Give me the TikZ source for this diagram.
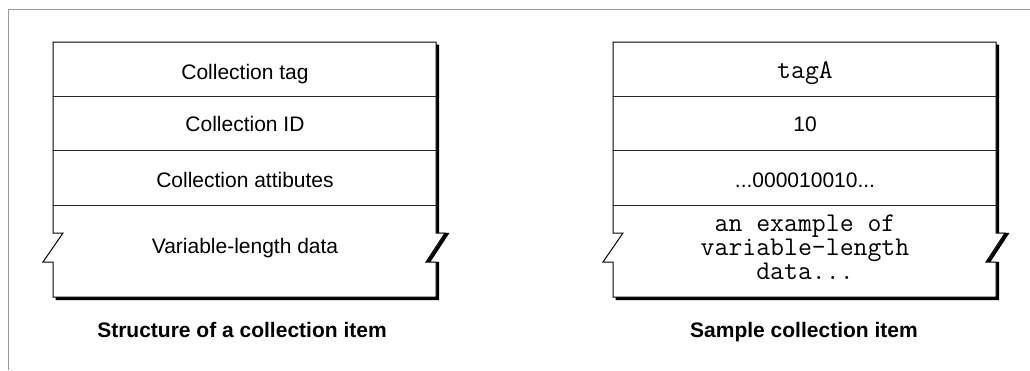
\documentclass[tikz,border=0pt]{standalone}
\usepackage{fontspec}
\setmainfont{Liberation Sans}
\newfontfamily\courfont{Latin Modern Mono}
\begin{document}
\begin{tikzpicture}[x=1pt,y=-1pt,
  frameline/.style={draw=black!40,line width=1.2pt},
  outline/.style={draw=black,line width=1pt,line join=miter},
  divider/.style={draw=black!85,line width=0.9pt},
  shadowline/.style={draw=black,line width=3.2pt,line join=miter},
  sanstext/.style={anchor=base,inner sep=0pt,font=\fontsize{21}{24}\selectfont},
  monotext/.style={anchor=base,inner sep=0pt,font=\courfont\fontsize{27}{24}\selectfont},
  captext/.style={anchor=base,inner sep=0pt,font=\bfseries\fontsize{21}{24}\selectfont}]
\useasboundingbox (0,0) rectangle (1030,370);
\fill[white] (0,0) rectangle (1030,370);
% frame
\draw[frameline] (8.5,370) -- (8.5,9.5) -- (1030,9.5);

% ---------- left box ----------
\def\L{53}\def\R{436}\def\T{42}\def\B{297}
\draw[shadowline,shift={(1.5,1.5)}] (\R,\T+1) -- (\R,233) -- (\R+9,233) -- (\R-10,262) -- (\R,262) -- (\R,\B) -- (\L+1,\B);
\draw[outline,fill=white] (\L,\T) -- (\R,\T) -- (\R,233) -- (\R+9,233) -- (\R-10,262) -- (\R,262) -- (\R,\B) -- (\L,\B) -- (\L,262) -- (\L-10,262) -- (\L+10,233) -- (\L,233) -- cycle;
\draw[divider] (\L,96) -- (\R,96);
\draw[divider] (\L,150) -- (\R,150);
\draw[divider] (\L,205) -- (\R,205);
\node[sanstext] (ltag) at (245,79) {Collection tag};
\node[sanstext] (lid) at (245,131) {Collection ID};
\node[sanstext] (lattr) at (245,187) {Collection attibutes};
\node[sanstext] (ldata) at (245,253) {Variable-length data};
\node[captext] (lcap) at (242,337) {Structure of a collection item};

% ---------- right box ----------
\def\L{613}\def\R{996}
\draw[shadowline,shift={(1.5,1.5)}] (\R,\T+1) -- (\R,233) -- (\R+9,233) -- (\R-10,262) -- (\R,262) -- (\R,\B) -- (\L+1,\B);
\draw[outline,fill=white] (\L,\T) -- (\R,\T) -- (\R,233) -- (\R+9,233) -- (\R-10,262) -- (\R,262) -- (\R,\B) -- (\L,\B) -- (\L,262) -- (\L-10,262) -- (\L+10,233) -- (\L,233) -- cycle;
\draw[divider] (\L,96) -- (\R,96);
\draw[divider] (\L,150) -- (\R,150);
\draw[divider] (\L,205) -- (\R,205);
\node[monotext] (rtag) at (805,78) {tagA};
\node[sanstext] (rid) at (805,131) {10};
\node[sanstext] (rattr) at (805,187) {...000010010...};
\node[monotext,align=center] (rdata) at (805,279.5) {an example of\\variable-length\\data...};
\node[captext] (rcap) at (804,337) {Sample collection item};
\end{tikzpicture}
\end{document}
